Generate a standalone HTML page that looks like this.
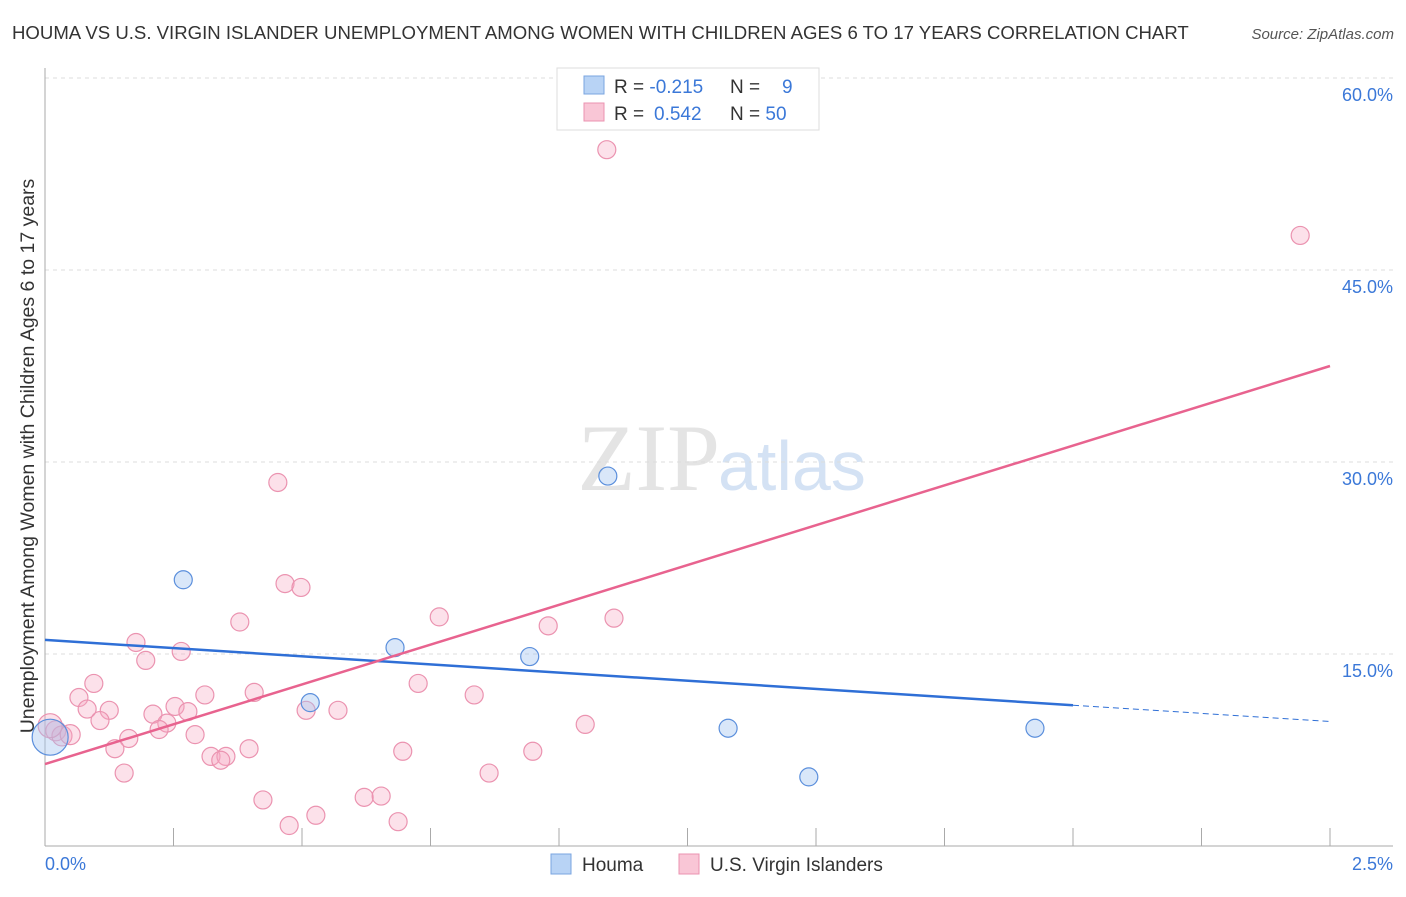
<!DOCTYPE html>
<html><head><meta charset="utf-8"><style>
body{margin:0;background:#fff;font-family:"Liberation Sans",sans-serif;}
</style></head><body>
<svg width="1406" height="892" id="c" xmlns="http://www.w3.org/2000/svg">
<text x="12" y="39" font-size="18.6" fill="#333">HOUMA VS U.S. VIRGIN ISLANDER UNEMPLOYMENT AMONG WOMEN WITH CHILDREN AGES 6 TO 17 YEARS CORRELATION CHART</text>
<text x="1394" y="39" font-size="15" fill="#555" font-style="italic" text-anchor="end">Source: ZipAtlas.com</text>
<text x="720" y="490" font-size="95" fill="#e4e4e4" text-anchor="end" font-family="Liberation Serif">ZIP</text>
<text x="718" y="490" font-size="70" fill="#d4e2f4">atlas</text>
<text transform="translate(34,456) rotate(-90)" font-size="19.5" fill="#333" text-anchor="middle">Unemployment Among Women with Children Ages 6 to 17 years</text>
<g id="grid"></g><g id="marks"></g>
<g>
<rect x="557" y="68" width="262" height="62" fill="#fff" stroke="#ddd"/>
<rect x="584" y="76" width="20" height="18" fill="#b8d3f5" stroke="#7aa5e0"/>
<rect x="584" y="103" width="20" height="18" fill="#f9c6d6" stroke="#eb93b0"/>
<text x="614" y="93" font-size="19" fill="#333">R = <tspan fill="#3b78d8">-0.215</tspan></text>
<text x="730" y="93" font-size="19" fill="#333">N = <tspan fill="#3b78d8" x="782">9</tspan></text>
<text x="614" y="120" font-size="19" fill="#333">R = <tspan fill="#3b78d8" x="654">0.542</tspan></text>
<text x="730" y="120" font-size="19" fill="#333">N = <tspan fill="#3b78d8">50</tspan></text>
</g>
<g>
<rect x="551" y="854" width="20" height="20" fill="#b8d3f5" stroke="#7aa5e0"/>
<text x="582" y="871" font-size="19" fill="#333">Houma</text>
<rect x="679" y="854" width="20" height="20" fill="#f9c6d6" stroke="#eb93b0"/>
<text x="710" y="871" font-size="19" fill="#333">U.S. Virgin Islanders</text>
</g>
</svg>
<script>
const yTicks=[15,30,45,60];
const yTickLabels=["15.0%","30.0%","45.0%","60.0%"];
const xTicks=[0,0.25,0.5,0.75,1,1.25,1.5,1.75,2,2.25,2.5];
const pinkX=[1.093,2.442,0.453,0.467,0.498,0.379,0.767,0.979,1.107,0.177,0.265,0.196,0.095,0.066,0.082,0.125,0.107,0.210,0.253,0.278,0.311,0.237,0.222,0.292,0.407,0.508,0.570,0.726,0.835,1.051,0.163,0.136,0.323,0.352,0.342,0.397,0.696,0.949,0.154,0.864,0.424,0.621,0.654,0.475,0.527,0.687,0.021,0.033,0.049,0.010];
const pinkY=[54.4,47.7,28.4,20.5,20.2,17.5,17.9,17.2,17.8,15.9,15.2,14.5,12.7,11.6,10.7,10.6,9.8,10.3,10.9,10.5,11.8,9.6,9.1,8.7,12.0,10.6,10.6,12.7,11.8,9.5,8.4,7.6,7.0,7.0,6.7,7.6,7.4,7.4,5.7,5.7,3.6,3.8,3.9,1.6,2.4,1.9,9.0,8.6,8.7,9.4];
const blueX=[0.269,1.095,0.681,0.943,0.516,1.329,1.926,1.486,0.010];
const blueY=[20.8,28.9,15.5,14.8,11.2,9.2,9.2,5.4,8.5];
const blueR=[9,9,9,9,9,9,9,9,18];
const pinkLine=[6.4,37.5];
const blueLine=[16.1,11.0,2.0];
const X=v=>45+v*514, Y=v=>846-v*12.8;
const ns='http://www.w3.org/2000/svg';
function mk(p,t,a){const e=document.createElementNS(ns,t);for(const k in a)e.setAttribute(k,a[k]);p.appendChild(e);return e;}
const g=document.getElementById('grid'),m=document.getElementById('marks');
mk(g,'line',{x1:45,y1:Y(60),x2:1393,y2:Y(60),stroke:'#ddd','stroke-dasharray':'4,4'});
yTicks.forEach((t,i)=>{
 const l=mk(g,'line',{x1:45,y1:Y(t),x2:1393,y2:Y(t),stroke:'#ddd','stroke-dasharray':'4,4'});
 
 
 const tx=mk(g,'text',{x:1393,y:Y(t)+23,'font-size':18,fill:'#3b78d8','text-anchor':'end'});
 tx.textContent=yTickLabels[i];
 
 
});
mk(g,'line',{x1:45,y1:68,x2:45,y2:846,stroke:'#aaa'});
mk(g,'line',{x1:45,y1:846,x2:1393,y2:846,stroke:'#aaa'});
xTicks.forEach(t=>{
 const l=mk(g,'line',{x1:X(t),y1:828,x2:X(t),y2:846,stroke:'#aaa'});
 
 
});
const x0=mk(g,'text',{x:45,y:870,'font-size':18,fill:'#3b78d8'});x0.textContent='0.0%';


const x1=mk(g,'text',{x:1393,y:870,'font-size':18,fill:'#3b78d8','text-anchor':'end'});x1.textContent='2.5%';


pinkX.forEach((v,i)=>{
 const c=mk(m,'circle',{cx:X(v),cy:Y(pinkY[i]),r:i>=46?(i==49?12:10):9,fill:'rgba(246,170,196,0.35)',stroke:'#eb93b0','stroke-width':1.2});
 
 
});
blueX.forEach((v,i)=>{
 const c=mk(m,'circle',{cx:X(v),cy:Y(blueY[i]),r:blueR[i],fill:'rgba(160,195,240,0.4)',stroke:'#5b8fdc','stroke-width':1.2});
 
 
});
const bl=blueLine,bs=(bl[1]-bl[0])/bl[2];
const b1=mk(m,'line',{x1:X(0),y1:Y(bl[0]),x2:X(bl[2]),y2:Y(bl[1]),stroke:'#2f6fd6','stroke-width':2.5});


const b2=mk(m,'line',{x1:X(bl[2]),y1:Y(bl[1]),x2:X(2.5),y2:Y(bl[0]+bs*2.5),stroke:'#2f6fd6','stroke-width':1,'stroke-dasharray':'6,4'});


const p=mk(m,'line',{x1:X(0),y1:Y(pinkLine[0]),x2:X(2.5),y2:Y(pinkLine[1]),stroke:'#e8638f','stroke-width':2.5});


</script>
</body></html>
